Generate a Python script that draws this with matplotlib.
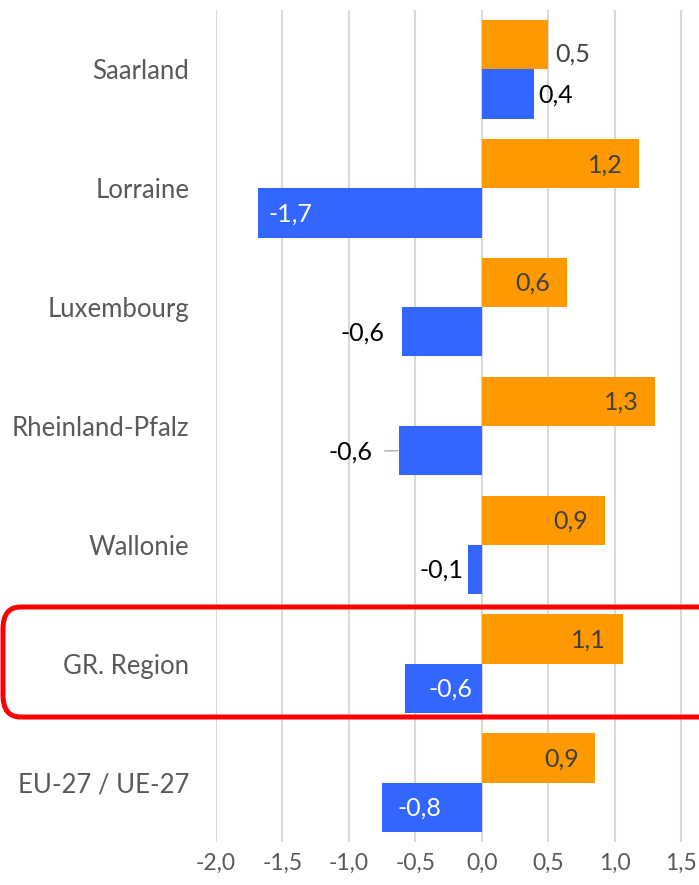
import matplotlib
matplotlib.use('Agg')
import matplotlib.pyplot as plt
from matplotlib.patches import FancyBboxPatch

# data
regions = ['Saarland', 'Lorraine', 'Luxembourg', 'Rheinland-Pfalz',
           'Wallonie', 'GR. Region', 'EU-27 / UE-27']
orange_vals = [0.50, 1.18, 0.64, 1.30, 0.93, 1.06, 0.85]
blue_vals = [0.39, -1.68, -0.60, -0.62, -0.10, -0.58, -0.75]
orange_labels = ['0,5', '1,2', '0,6', '1,3', '0,9', '1,1', '0,9']
blue_labels = ['0,4', '-1,7', '-0,6', '-0,6', '-0,1', '-0,6', '-0,8']
xticks = [-2.0, -1.5, -1.0, -0.5, 0.0, 0.5, 1.0, 1.5]
xtick_labels = ['-2,0', '-1,5', '-1,0', '-0,5', '0,0', '0,5', '1,0', '1,5']

ORANGE = '#FF9900'
BLUE = '#3366FF'
plt.rcParams['font.family'] = ['Lato', 'DejaVu Sans']

fig = plt.figure(figsize=(6.99, 8.85), dpi=100)
ax = fig.add_axes([0.3086, 0.0486, 0.6914, 0.9401])

pos = list(range(len(regions)))
h = 0.415
ax.barh([p - h / 2 for p in pos], orange_vals, height=h, color=ORANGE, zorder=3)
ax.barh([p + h / 2 for p in pos], blue_vals, height=h, color=BLUE, zorder=3)

ax.set_xlim(-2.0, 1.634)
ax.set_ylim(len(regions) - 0.5, -0.5)
ax.set_xticks(xticks)
ax.set_xticklabels(xtick_labels, fontsize=16.5, color='#595959')
ax.set_yticks(pos)
ax.set_yticklabels(regions, fontsize=18.5, color='#595959')
ax.tick_params(length=0)
ax.tick_params(axis='x', pad=8)
ax.tick_params(axis='y', pad=19)
ax.grid(axis='x', color='#D9D9D9', lw=1.5, zorder=0)
for s in ax.spines.values():
    s.set_visible(False)

fs = 18
# label offsets in pixels (how the labels sit on the bars in the reference)
orange_off = [7, -16, -17, -16, -17, -17, -16]
orange_dy = [-9, -1, -1, -1, -1, -1, -1]
orange_col = ['#404040'] * 7
blue_off = [5, 10, -17, -27, -5, 24, 16]
blue_col = ['black', 'white', 'black', 'black', 'black', 'white', 'white']

px = 72 / 100
for i, (v, lab) in enumerate(zip(orange_vals, orange_labels)):
    o = orange_off[i]
    ax.annotate(lab, (v, i - h / 2), xytext=(o * px, orange_dy[i] * px),
                textcoords='offset points',
                ha='left' if o > 0 else 'right', va='center',
                fontsize=fs, color=orange_col[i])

for i, (v, lab) in enumerate(zip(blue_vals, blue_labels)):
    o = blue_off[i]
    ha = 'left' if o > 0 else 'right'
    kw = {}
    if i == 3:
        kw['arrowprops'] = dict(arrowstyle='-', color='#A6A6A6', lw=1,
                                shrinkA=7, shrinkB=1)
    ax.annotate(lab, (v, i + h / 2), xytext=(o * px, -1 * px),
                textcoords='offset points', ha=ha, va='center',
                fontsize=fs, color=blue_col[i], **kw)

# red rounded frame around GR. Region
W, H = 699, 885
box = FancyBboxPatch((3 / W, (H - 717) / H), 720 / W, 110 / H,
                     boxstyle='round,pad=0,rounding_size=0.025',
                     transform=fig.transFigure, fill=False,
                     edgecolor='#FF0000', lw=3.6, zorder=10)
fig.patches.append(box)

fig.savefig('out.png', dpi=100)
